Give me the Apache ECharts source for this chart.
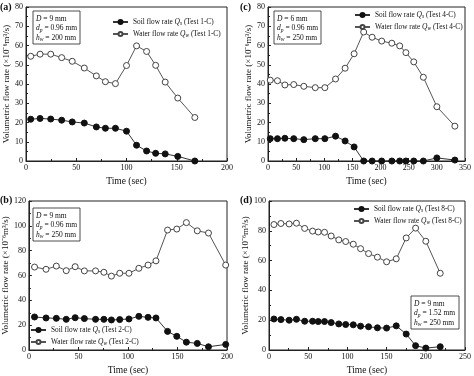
<!DOCTYPE html>
<html>
<head>
<meta charset="utf-8">
<script src="https://cdn.jsdelivr.net/npm/echarts@6/dist/echarts.min.js"></script>
<style>
html, body { margin: 0; padding: 0; background: #fff; }
#main { width: 474px; height: 376px; }
</style>
</head>
<body>
<div id="main"></div>
<script>
// (a) Test 1-C
const timeA = [4.7, 14, 24.6, 35.5, 46, 58, 70, 79, 89, 100, 110, 120, 129, 138.5, 151, 168];
const soilA = [21.7, 22.1, 21.8, 21.2, 20.3, 19.7, 17.7, 17, 17, 15.5, 8.2, 5.2, 4, 3.7, 2.4, 0];
const waterA = [54.4, 55.5, 55.5, 53.7, 51.8, 48.3, 44.2, 41.2, 40.2, 49.6, 59.8, 56.9, 49.7, 41, 32.7, 22.6];

// (c) Test 4-C
const timeC = [4, 16.8, 30, 45.7, 63.6, 84, 101, 120, 137, 153, 170, 185, 202, 220, 234, 245, 259, 276, 300, 332];
const soilC = [11.6, 11.6, 11.8, 11.6, 11.1, 11.6, 11.6, 12.9, 10.4, 7.3, 0, 0, 0, 0, 0, 0, 0, 0, 1.6, 0.5];
const waterC = [42, 41.7, 39.5, 39.7, 38.8, 38.1, 38.1, 42.6, 48.2, 55.7, 67, 64.3, 62.3, 61.2, 59.8, 56.3, 51.5, 43.5, 28.2, 18.1];

// (b) Test 2-C
const timeB = [5.7, 17.3, 27.7, 37.7, 46.7, 56, 67.3, 75.7, 83.3, 91.7, 101, 111, 120.3, 128.3, 140, 149.3, 159, 170, 181.3, 198.7];
const soilB = [26.6, 25.8, 25.5, 24.7, 26, 25.3, 24.7, 24.7, 24.2, 24.5, 25, 27.1, 26.3, 25.8, 15, 11, 6.3, 5.3, 2.6, 4.5];
const waterB = [66.8, 65, 67.6, 63.9, 67.1, 63.7, 63.7, 62.6, 59.5, 61.8, 61.8, 65.8, 68.4, 71.8, 96.6, 97.4, 102.6, 96, 94.2, 68.4];

// (d) Test 8-C
const timeD = [6.3, 15.2, 25.7, 35, 45.5, 55.6, 62.8, 70.8, 79.3, 89, 97.8, 107.5, 116.8, 127, 138.3, 150, 162.3, 175, 187, 200, 218.4];
const soilD = [20.8, 20.4, 20, 20.6, 19.3, 19.3, 19.1, 19.1, 18.4, 17.5, 17.1, 16.9, 16, 15.6, 14.9, 14.7, 16.2, 10.7, 2.9, 1.3, 2.2];
const waterD = [84.2, 84.9, 84.6, 85.1, 81.6, 79.8, 79.2, 79, 76.5, 73.9, 72.8, 71, 68, 64.7, 62.3, 59.2, 61.2, 75.2, 81.8, 73, 51.5];

const panels = [
  { tag: '(a)', test: '1-C', t: timeA, s: soilA, w: waterA, xMax: 200, yMax: 80, yInt: 10,
    grid: { left: 26, top: 7, width: 201, height: 154 },
    legend: { left: 112, top: 18 },
    note: { x: 33, y: 11, w: 47, h: 33, D: '9', dp: '0.96', hw: '200' }, tagPos: [0, 2] },
  { tag: '(c)', test: '4-C', t: timeC, s: soilC, w: waterC, xMax: 350, yMax: 80, yInt: 10,
    grid: { left: 268, top: 7, width: 202, height: 154 },
    legend: { left: 354, top: 11 },
    note: { x: 274, y: 11, w: 47, h: 33, D: '6', dp: '0.96', hw: '250' }, tagPos: [240, 2] },
  { tag: '(b)', test: '2-C', t: timeB, s: soilB, w: waterB, xMax: 200, yMax: 120, yInt: 20,
    grid: { left: 27, top: 201, width: 200, height: 150 },
    legend: { left: 30, top: 326 },
    note: { x: 33, y: 208, w: 47, h: 33, D: '9', dp: '0.96', hw: '250' }, tagPos: [0, 195] },
  { tag: '(d)', test: '8-C', t: timeD, s: soilD, w: waterD, xMax: 250, yMax: 100, yInt: 20,
    grid: { left: 269, top: 201, width: 198, height: 150 },
    legend: { left: 353, top: 205 },
    note: { x: 411, y: 296, w: 48, h: 33, D: '9', dp: '1.52', hw: '250' }, tagPos: [240, 195] }
];

const font = 'Liberation Serif';
const richText = {
  i: { fontStyle: 'italic', fontFamily: font, fontSize: 7.5 },
  sub: { fontStyle: 'italic', fontFamily: font, fontSize: 5.5, padding: [4, 0, 0, 0] }
};

const grids = [], xAxes = [], yAxes = [], series = [], legends = [], graphics = [];

panels.forEach((p, i) => {
  grids.push(Object.assign({ show: true, borderColor: '#222', borderWidth: 1 }, p.grid));
  xAxes.push({
    type: 'value', gridIndex: i, min: 0, max: p.xMax, interval: 50,
    name: 'Time (sec)', nameLocation: 'middle', nameGap: 15,
    nameTextStyle: { fontFamily: font, fontSize: 9.5, color: '#111' },
    axisLine: { lineStyle: { color: '#222' } },
    axisTick: { inside: true, length: 3, lineStyle: { color: '#222' } },
    minorTick: { show: true, splitNumber: 2, length: 2, lineStyle: { color: '#222' } },
    axisLabel: { fontFamily: font, fontSize: 8, color: '#111', margin: 3 },
    splitLine: { show: false }
  });
  yAxes.push({
    type: 'value', gridIndex: i, min: 0, max: p.yMax, interval: p.yInt,
    name: 'Volumetric flow rate (×10⁻⁶m³/s)', nameLocation: 'middle', nameGap: 14,
    nameTextStyle: { fontFamily: font, fontSize: 9, color: '#111' },
    axisLine: { lineStyle: { color: '#222' } },
    axisTick: { inside: true, length: 3, lineStyle: { color: '#222' } },
    minorTick: { show: true, splitNumber: 2, length: 2, lineStyle: { color: '#222' } },
    axisLabel: { fontFamily: font, fontSize: 8, color: '#111', margin: 3 },
    splitLine: { show: false }
  });
  const soilName = 'Soil flow rate Qs (Test ' + p.test + ')';
  const waterName = 'Water flow rate Qw (Test ' + p.test + ')';
  series.push({
    name: soilName, type: 'line', xAxisIndex: i, yAxisIndex: i,
    data: p.t.map((t, k) => [t, p.s[k]]),
    symbol: 'circle', symbolSize: 6, showAllSymbol: true,
    itemStyle: { color: '#111', borderColor: '#111', borderWidth: 1 },
    lineStyle: { color: '#333', width: 1 }
  });
  series.push({
    name: waterName, type: 'line', xAxisIndex: i, yAxisIndex: i,
    data: p.t.map((t, k) => [t, p.w[k]]),
    symbol: 'circle', symbolSize: 6, showAllSymbol: true,
    itemStyle: { color: '#fff', borderColor: '#444', borderWidth: 1 },
    lineStyle: { color: '#555', width: 1 }
  });
  legends.push({
    data: [soilName, waterName], orient: 'vertical', left: p.legend.left, top: p.legend.top,
    itemWidth: 15, itemHeight: 5, itemGap: 3, padding: 0, selectedMode: false,
    formatter: n => n.replace(/Q(s|w)/, (m, c) => '{i|Q}{sub|' + c + '}'),
    textStyle: { fontFamily: font, fontSize: 7.3, color: '#111', rich: richText }
  });
  graphics.push({
    type: 'text', left: p.tagPos[0], top: p.tagPos[1],
    style: { text: p.tag, font: 'bold 10px "Liberation Serif"', fill: '#111' }
  });
  graphics.push({
    type: 'rect', shape: { x: p.note.x, y: p.note.y, width: p.note.w, height: p.note.h },
    style: { fill: '#fff', stroke: '#222', lineWidth: 0.8 }
  });
  graphics.push({
    type: 'text', x: p.note.x + 3, y: p.note.y + 3,
    style: {
      text: '{i|D} = ' + p.note.D + ' mm\n{i|d}{sub|p} = ' + p.note.dp + ' mm\n{i|h}{sub|w} = ' + p.note.hw + ' mm',
      font: '7.5px "Liberation Serif"', fill: '#111', lineHeight: 9.5, rich: richText
    }
  });
});

const chart = echarts.init(document.getElementById('main'), null, { renderer: 'canvas' });
chart.setOption({
  backgroundColor: '#fff',
  animation: false,
  grid: grids,
  xAxis: xAxes,
  yAxis: yAxes,
  legend: legends,
  series: series,
  graphic: graphics
});
</script>
</body>
</html>
